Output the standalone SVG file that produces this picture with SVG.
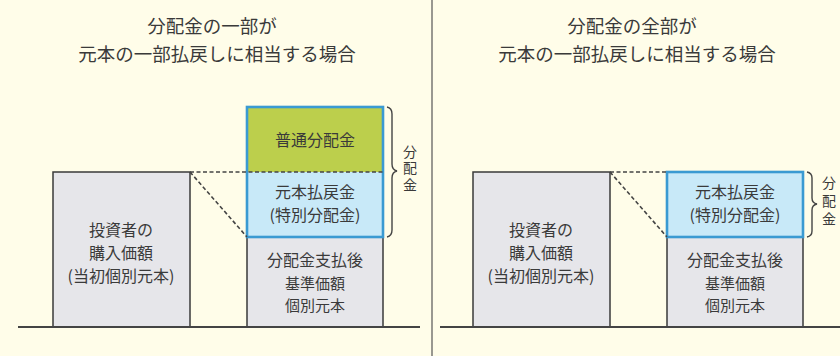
<svg xmlns="http://www.w3.org/2000/svg" width="840" height="356" viewBox="0 0 840 356">
<style>
text{font-family:"Noto Sans CJK JP","Noto Sans CJK SC",sans-serif;fill:#3a3a3a;text-anchor:middle}
.t{font-size:18.5px}
.b{font-size:16px}
.s{font-size:15px}
.v{font-size:14px;writing-mode:vertical-rl}
.box{stroke:#3a3a3a;stroke-width:1.5}
.grey{fill:#e6e6ea}
.dash{fill:none;stroke:#444;stroke-width:1.6;stroke-dasharray:4 2.5}
.line{fill:none;stroke:#444;stroke-width:2}
.blueline{fill:none;stroke:#3a9ad2;stroke-width:2.6}
.brace{fill:none;stroke:#444;stroke-width:1.4}
</style>
<rect width="840" height="356" fill="#fffde9"/>
<line x1="432" y1="0" x2="432" y2="356" stroke="#555" stroke-width="1.2"/>
<g id="title-left">
<text class="t" x="212" y="33">分配金の一部が</text>
<text class="t" x="217" y="61">元本の一部払戻しに相当する場合</text>
</g>
<g id="title-right">
<text class="t" x="632" y="33">分配金の全部が</text>
<text class="t" x="637" y="61">元本の一部払戻しに相当する場合</text>
</g>
<g id="left-purchase">
<rect class="box grey" x="53" y="172" width="137" height="155"/>
<text class="b" x="121" y="236">投資者の</text>
<text class="b" x="121" y="259">購入価額</text>
<text class="b" x="121" y="282">(当初個別元本)</text>
</g>
<g id="left-after">
<rect class="box grey" x="247" y="237" width="136" height="90"/>
<text class="b" x="315" y="266">分配金支払後</text>
<text class="s" x="315" y="289">基準価額</text>
<text class="s" x="315" y="311">個別元本</text>
</g>
<g id="left-normal">
<rect x="247" y="107" width="136" height="65" fill="#bccf4c"/>
<text class="b" x="315" y="146">普通分配金</text>
</g>
<g id="left-return">
<rect x="247" y="172" width="136" height="65" fill="#c8e9f8"/>
<text class="b" x="315" y="198">元本払戻金</text>
<text class="b" x="315" y="221">(特別分配金)</text>
<rect class="blueline" x="247" y="107" width="136" height="130"/>
</g>
<g id="left-label">
<path class="brace" d="M387 107 Q392 108 392 114 L392 164 Q392 170 397 171 Q392 172 392 178 L392 230 Q392 236 387 237"/>
<text class="v" x="410" y="169" letter-spacing="2.5">分配金</text>
</g>
<g id="right-purchase">
<rect class="box grey" x="473" y="172" width="137" height="155"/>
<text class="b" x="541" y="236">投資者の</text>
<text class="b" x="541" y="259">購入価額</text>
<text class="b" x="541" y="282">(当初個別元本)</text>
</g>
<g id="right-after">
<rect class="box grey" x="667" y="237" width="136" height="90"/>
<text class="b" x="735" y="266">分配金支払後</text>
<text class="s" x="735" y="289">基準価額</text>
<text class="s" x="735" y="311">個別元本</text>
</g>
<g id="right-return">
<rect x="667" y="172" width="136" height="65" fill="#c8e9f8"/>
<text class="b" x="735" y="198">元本払戻金</text>
<text class="b" x="735" y="221">(特別分配金)</text>
<rect class="blueline" x="667" y="172" width="136" height="65"/>
</g>
<g id="right-label">
<path class="brace" d="M807 172 Q812 173 812 178 L812 198 Q812 203 817 204 Q812 205 812 210 L812 231 Q812 236 807 237"/>
<text class="v" x="829" y="203" letter-spacing="4">分配金</text>
</g>
<g id="connectors">
<line class="line" x1="18" y1="327" x2="420" y2="327"/>
<line class="line" x1="440" y1="327" x2="840" y2="327"/>
<path class="dash" d="M190 172 H383 M190 172 L247 237"/>
<path class="dash" d="M610 172 H667 M610 172 L667 237"/>
</g>
</svg>
